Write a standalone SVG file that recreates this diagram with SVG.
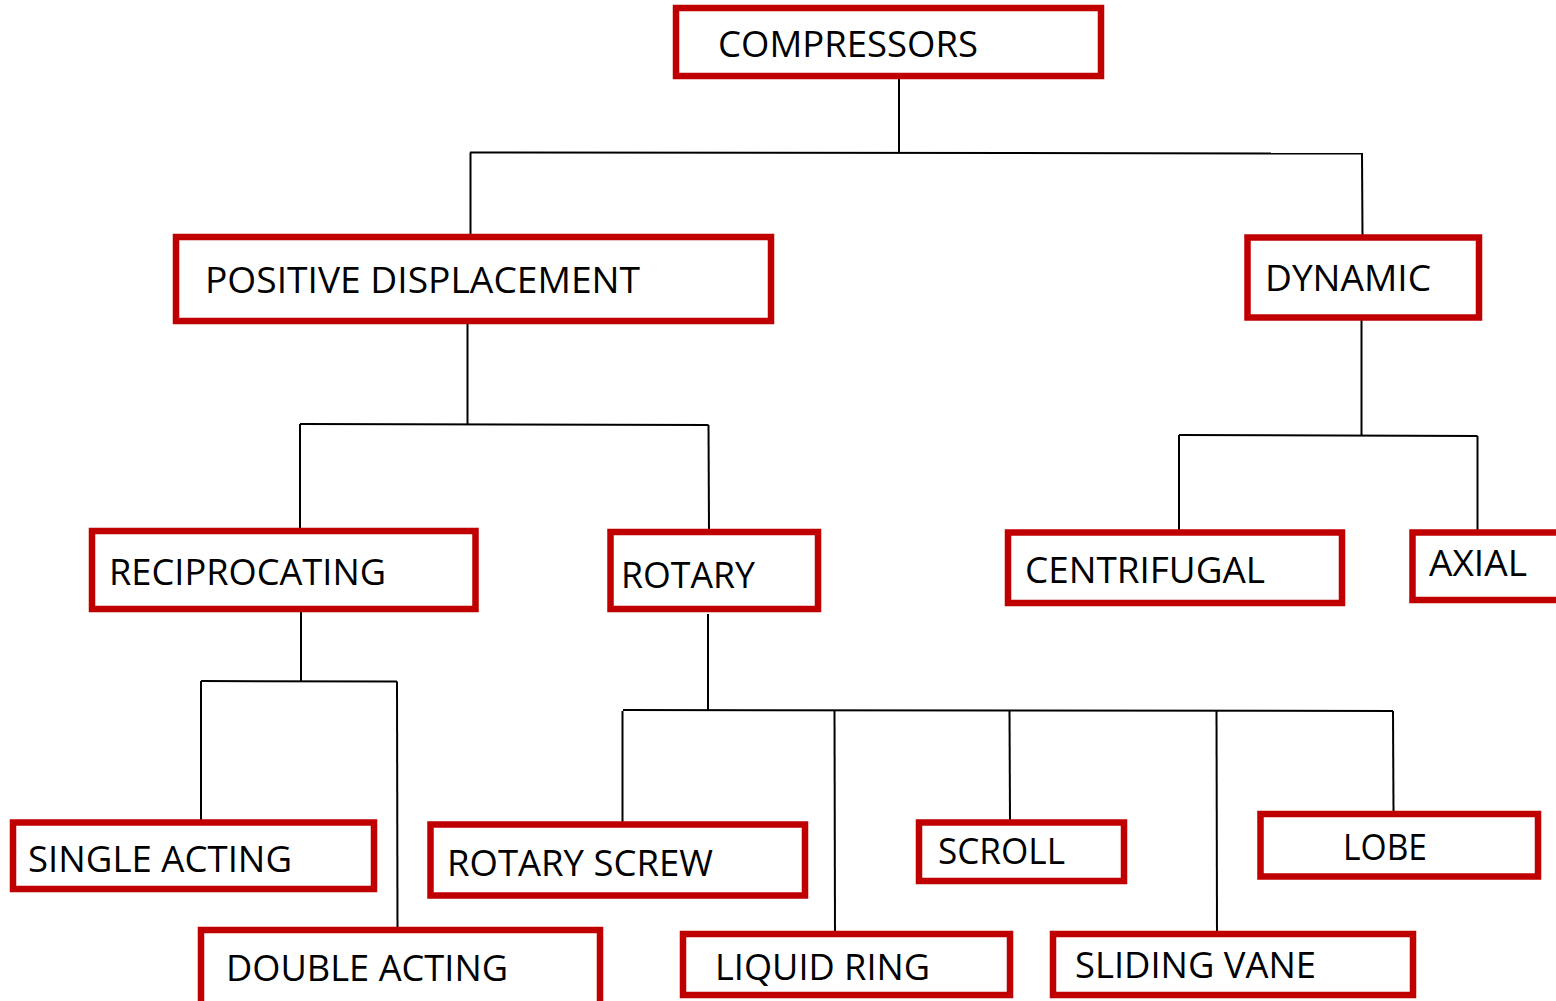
<svg xmlns="http://www.w3.org/2000/svg" width="1556" height="1001" viewBox="0 0 1556 1001">
<style>
.box{fill:#fff;stroke:#c00000;stroke-width:6.5}
.lbl{font-family:"Open Sans","Liberation Sans",sans-serif;font-size:37px;fill:#000;lengthAdjust:spacingAndGlyphs}
.con line{stroke:#000;stroke-width:2}
</style>
<rect width="1556" height="1001" fill="#fff"/>
<g id="connectors" class="con">
<line x1="899" y1="76" x2="899" y2="153"/>
<line x1="470" y1="152.5" x2="1362" y2="153.5"/>
<line x1="470.5" y1="152.5" x2="470.5" y2="237"/>
<line x1="1362" y1="153" x2="1362.5" y2="237"/>
<line x1="467.5" y1="316" x2="467.5" y2="424"/>
<line x1="300" y1="424" x2="708.5" y2="425"/>
<line x1="300" y1="424" x2="300" y2="531"/>
<line x1="708.5" y1="425" x2="709" y2="532"/>
<line x1="1361.5" y1="318" x2="1361.5" y2="435"/>
<line x1="1179" y1="435" x2="1477.5" y2="436"/>
<line x1="1179" y1="435" x2="1179" y2="532"/>
<line x1="1477.5" y1="436" x2="1477.5" y2="532"/>
<line x1="301" y1="609" x2="301" y2="681"/>
<line x1="201" y1="681" x2="397" y2="681.5"/>
<line x1="201" y1="681" x2="201" y2="822"/>
<line x1="397" y1="681.5" x2="397.5" y2="930"/>
<line x1="708" y1="614" x2="708" y2="710"/>
<line x1="623" y1="710" x2="1393" y2="711"/>
<line x1="622.5" y1="711" x2="622.5" y2="824"/>
<line x1="834.5" y1="710" x2="835" y2="934"/>
<line x1="1009.5" y1="710" x2="1010" y2="822"/>
<line x1="1216.5" y1="710" x2="1217" y2="934"/>
<line x1="1393" y1="711" x2="1393.5" y2="812"/>
</g>
<g id="compressors"><rect class="box" x="676" y="8" width="425" height="68"/><text class="lbl" x="718" y="57" textLength="260" lengthAdjust="spacingAndGlyphs">COMPRESSORS</text></g>
<g id="positive-displacement"><rect class="box" x="176" y="237" width="595" height="84"/><text class="lbl" x="205" y="293" textLength="435" lengthAdjust="spacingAndGlyphs">POSITIVE DISPLACEMENT</text></g>
<g id="dynamic"><rect class="box" x="1247.5" y="237.5" width="231.5" height="80"/><text class="lbl" x="1265" y="291" textLength="166" lengthAdjust="spacingAndGlyphs">DYNAMIC</text></g>
<g id="reciprocating"><rect class="box" x="92" y="531" width="383.5" height="78"/><text class="lbl" x="109" y="585" textLength="277" lengthAdjust="spacingAndGlyphs">RECIPROCATING</text></g>
<g id="rotary"><rect class="box" x="610.5" y="532" width="207.5" height="77"/><text class="lbl" x="621" y="588" textLength="134" lengthAdjust="spacingAndGlyphs">ROTARY</text></g>
<g id="centrifugal"><rect class="box" x="1008" y="532.5" width="334" height="70.5"/><text class="lbl" x="1025" y="583" textLength="240" lengthAdjust="spacingAndGlyphs">CENTRIFUGAL</text></g>
<g id="axial"><rect class="box" x="1412.5" y="532.5" width="200" height="67.5"/><text class="lbl" x="1429" y="576" textLength="98" lengthAdjust="spacingAndGlyphs">AXIAL</text></g>
<g id="single-acting"><rect class="box" x="13" y="822.5" width="361" height="66.5"/><text class="lbl" x="28" y="872" textLength="264" lengthAdjust="spacingAndGlyphs">SINGLE ACTING</text></g>
<g id="double-acting"><rect class="box" x="201" y="930" width="399" height="100"/><text class="lbl" x="226" y="981" textLength="282" lengthAdjust="spacingAndGlyphs">DOUBLE ACTING</text></g>
<g id="rotary-screw"><rect class="box" x="430.5" y="824.5" width="374.5" height="71"/><text class="lbl" x="447" y="876" textLength="266" lengthAdjust="spacingAndGlyphs">ROTARY SCREW</text></g>
<g id="scroll"><rect class="box" x="919" y="822.5" width="205" height="58.5"/><text class="lbl" x="938" y="864" textLength="127" lengthAdjust="spacingAndGlyphs">SCROLL</text></g>
<g id="lobe"><rect class="box" x="1260.5" y="814" width="277.5" height="62.5"/><text class="lbl" x="1343" y="860" textLength="84" lengthAdjust="spacingAndGlyphs">LOBE</text></g>
<g id="liquid-ring"><rect class="box" x="683" y="934" width="327" height="61"/><text class="lbl" x="715" y="980" textLength="215" lengthAdjust="spacingAndGlyphs">LIQUID RING</text></g>
<g id="sliding-vane"><rect class="box" x="1053" y="934" width="360" height="61"/><text class="lbl" x="1075" y="978" textLength="241" lengthAdjust="spacingAndGlyphs">SLIDING VANE</text></g>
</svg>
